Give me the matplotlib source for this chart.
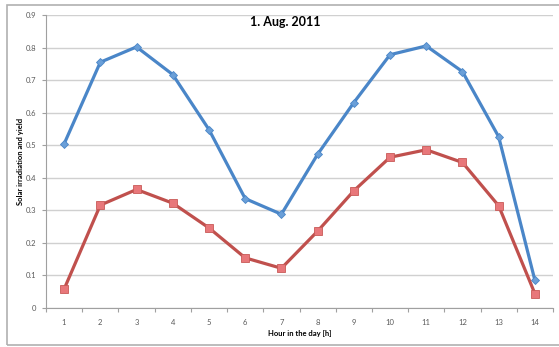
import matplotlib.pyplot as plt
from matplotlib.patches import Rectangle

hours = list(range(1, 15))
irradiation = [0.504, 0.755, 0.802, 0.717, 0.548, 0.336, 0.288, 0.472, 0.631,
               0.778, 0.805, 0.726, 0.526, 0.085]
pv_yield = [0.058, 0.316, 0.364, 0.322, 0.246, 0.154, 0.122, 0.236, 0.360,
            0.463, 0.486, 0.447, 0.314, 0.044]
y_ticks = [0, 0.1, 0.2, 0.3, 0.4, 0.5, 0.6, 0.7, 0.8, 0.9]

BLUE = "#4a86c8"
RED = "#c0504d"
GRID = "#d0d0d0"
TXT = "#595959"

plt.rcParams["font.family"] = ["Lato", "DejaVu Sans"]

fig = plt.figure(figsize=(5.59, 3.47), dpi=100)
fig.patches.append(Rectangle((7 / 559, 2 / 347), 1.2, 340 / 347, transform=fig.transFigure,
                             fill=False, edgecolor="#b0b0b0", linewidth=1.2))

ax = fig.add_axes([46 / 559, 39 / 347, 507 / 559, 293 / 347])

ax.plot(hours, irradiation, color=BLUE, linewidth=2.3, marker="D", markersize=4,
        markerfacecolor="#6a9fd8", markeredgecolor=BLUE, markeredgewidth=0.6,
        solid_joinstyle="round")
ax.plot(hours, pv_yield, color=RED, linewidth=2.3, marker="s", markersize=6,
        markerfacecolor="#e8777a", markeredgecolor="#c85a57", markeredgewidth=0.6,
        solid_joinstyle="round")

ax.set_xlim(0.5, 14.5)
ax.set_ylim(0, 0.9)
ax.set_yticks(y_ticks)
ax.set_yticklabels(["0"] + [f"{v:.1f}" for v in y_ticks[1:]])
ax.set_xticks(hours)
ax.set_xticks([h + 0.5 for h in range(0, 15)], minor=True)
ax.tick_params(axis="x", which="major", length=0, pad=8, labelsize=5.5, labelcolor=TXT)
ax.tick_params(axis="x", which="minor", length=3, color="#a0a0a0", width=0.8)
ax.tick_params(axis="y", length=3, color="#a0a0a0", width=0.8, pad=4,
               labelsize=5.5, labelcolor=TXT)

ax.grid(axis="y", color=GRID, linewidth=1)
ax.set_axisbelow(True)
for side in ["top", "right"]:
    ax.spines[side].set_visible(False)
for side in ["left", "bottom"]:
    ax.spines[side].set_color("#a0a0a0")
    ax.spines[side].set_linewidth(0.8)

fig.text(285 / 559, 1 - 22 / 347, "1. Aug. 2011", ha="center", va="center",
         fontsize=9, fontweight="bold", color="black")
ax.set_xlabel("Hour in the day [h]", fontsize=5.5, fontweight="bold", labelpad=3)
fig.text(21 / 559, 1 - 161 / 347, "Solar irradiation and yield", rotation=90,
         ha="center", va="center", fontsize=5.5, fontweight="bold")

fig.savefig("out.png", dpi=100)
